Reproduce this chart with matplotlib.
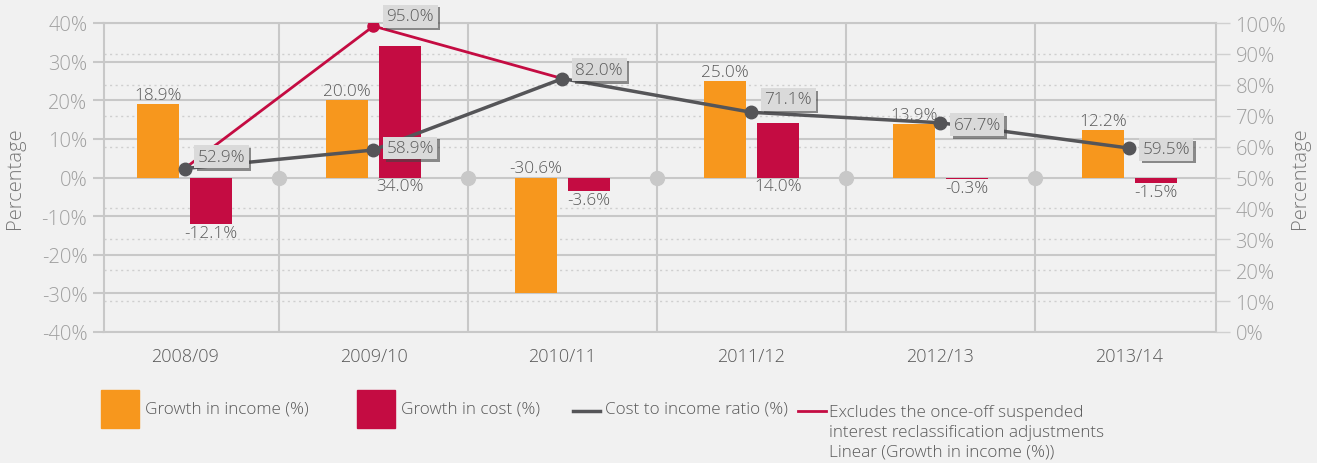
import numpy as np
import matplotlib
matplotlib.use("Agg")
import matplotlib.pyplot as plt
from matplotlib.patches import Rectangle
from matplotlib.lines import Line2D
import matplotlib.patheffects as pe

plt.rcParams['font.family'] = ['Open Sans', 'DejaVu Sans']

# data
years = ['2008/09', '2009/10', '2010/11', '2011/12', '2012/13', '2013/14']
growth_income = [18.9, 20.0, -30.6, 25.0, 13.9, 12.2]
growth_income_drawn = [18.9, 20.0, -30.0, 25.0, 13.9, 12.2]
growth_cost = [-12.1, 34.0, -3.6, 14.0, -0.3, -1.5]
cost_income_ratio = [52.9, 58.9, 82.0, 71.1, 67.7, 59.5]
excl_line = [52.9, 99.0, 82.0]          # as drawn in the source
excl_peak_label = '95.0%'

legend_labels = ['Growth in income (%)', 'Growth in cost (%)', 'Cost to income ratio (%)',
                 'Excludes the once-off suspended\ninterest reclassification adjustments\nLinear (Growth in income (%))']

ORANGE = '#f7971d'
CRIMSON = '#c40c42'
DARK = '#555558'
GRID = '#c8c8c8'
BG = '#f1f1f1'
TICK = '#a0a0a0'
TXT = '#595959'
WT = 'light'

fig = plt.figure(figsize=(13.17, 4.64), dpi=100, facecolor=BG)
ax = fig.add_axes([104/1317, 1-333/464, (1216-104)/1317, (333-24)/464])
ax.set_facecolor(BG)
x = np.arange(len(years))
ax.set_xlim(-0.426, 5.458)
ax.set_ylim(-40, 40)

w = 0.222
off = 0.14
ax.bar(x - off, growth_income_drawn, w, color=ORANGE, zorder=3)
ax.bar(x + off, growth_cost, w, color=CRIMSON, zorder=3)

for i, v in enumerate(growth_income):
    ax.annotate('%.1f%%' % v, (x[i] - off, max(v, 0)), xytext=(0, 1), textcoords='offset pixels',
                ha='center', va='bottom', fontsize=12.3, color=TXT, zorder=5, fontweight=WT)
for i, v in enumerate(growth_cost):
    ax.annotate('%.1f%%' % v, (x[i] + off, min(v, 0)), xytext=(0, -1), textcoords='offset pixels',
                ha='center', va='top', fontsize=12.3, color=TXT, zorder=5, fontweight=WT)

# grid
ax.set_yticks(np.arange(-40, 41, 10))
ax.set_yticks(np.arange(-40, 41, 8), minor=True)
ax.set_xticks(x)
ax.set_xticks(x[:-1] + 0.5, minor=True)
ax.set_xticklabels(years, fontweight=WT)
ax.yaxis.grid(True, which='major', color=GRID, lw=1.5)
ax.yaxis.grid(True, which='minor', color='#cfcfcf', lw=1.0, linestyle=(0, (1.5, 2.5)))
ax.xaxis.grid(True, which='minor', color=GRID, lw=1.5)
ax.set_axisbelow(True)
ax.yaxis.set_major_formatter(plt.FuncFormatter(lambda v, p: '%d%%' % v))
ax.tick_params(axis='y', which='major', length=8, width=1.5, color=GRID, labelcolor=TICK,
               labelsize=14.5, pad=4)
ax.tick_params(axis='y', which='minor', length=0)
ax.tick_params(axis='x', which='both', length=0, labelcolor=TXT, labelsize=13, pad=11)
for s in ax.spines.values():
    s.set_color(GRID)
    s.set_linewidth(1.5)

ax.plot(x[:-1] + 0.5, np.zeros(len(x) - 1), 'o', color=GRID, ms=10, zorder=2, clip_on=False)

# right axis
ax2 = ax.twinx()
ax2.set_ylim(0, 100)
ax2.set_yticks(np.arange(0, 101, 10))
ax2.yaxis.set_major_formatter(plt.FuncFormatter(lambda v, p: '%d%%' % v))
ax2.tick_params(axis='y', length=10, width=1, color='#d0d0d0', labelcolor=TICK, labelsize=14.5, pad=4)
for s in ax2.spines.values():
    s.set_visible(False)
for lab in ax.get_yticklabels() + ax2.get_yticklabels():
    lab.set_fontweight(WT)

ax2.plot(x[:len(excl_line)], excl_line, color=CRIMSON, lw=2, zorder=2)
ax2.plot(x[1], excl_line[1], 'o', color=CRIMSON, ms=8, zorder=2)
ax2.plot(x, cost_income_ratio, color=DARK, lw=2.5, marker='o', ms=9, zorder=3)

def boxlabel(xv, yv, txt, dy):
    t = ax2.annotate(txt, (xv, yv), xytext=(13, dy), textcoords='offset pixels',
                     ha='left', va='center', fontsize=12.3, color=TXT, zorder=6, fontweight=WT,
                     bbox=dict(boxstyle='square,pad=0.2', fc='#dadada', ec='none'))
    t.get_bbox_patch().set_path_effects([pe.SimplePatchShadow(offset=(2, -2), shadow_rgbFace='#444444', alpha=0.6),
                                         pe.Normal()])

dys = [12, 2, 9, 13, -2, -1]
for i, v in enumerate(cost_income_ratio):
    boxlabel(x[i], v, '%.1f%%' % v, dys[i])
boxlabel(x[1], excl_line[1], excl_peak_label, 10)

fig.text(15/1317, 1-178/464, 'Percentage', rotation=90, ha='center', va='center', fontsize=14.5,
         color='#777777', fontweight=WT)
fig.text(1300/1317, 1-178/464, 'Percentage', rotation=90, ha='center', va='center', fontsize=14.5,
         color='#777777', fontweight=WT)

# legend
H, W = 464, 1317
LF = 12.3
fig.patches.append(Rectangle((101/W, 1-429/H), 38/W, 38/H, transform=fig.transFigure, color=ORANGE))
fig.text(145/W, 1-410/H, legend_labels[0], ha='left', va='center', fontsize=LF, color=TXT, fontweight=WT)
fig.patches.append(Rectangle((357/W, 1-429/H), 38/W, 38/H, transform=fig.transFigure, color=CRIMSON))
fig.text(401/W, 1-410/H, legend_labels[1], ha='left', va='center', fontsize=LF, color=TXT, fontweight=WT)
fig.lines.append(Line2D([573/W, 600/W], [1-412/H, 1-412/H], transform=fig.transFigure, color=DARK, lw=2.5))
fig.text(605/W, 1-410/H, legend_labels[2], ha='left', va='center', fontsize=LF, color=TXT, fontweight=WT)
fig.lines.append(Line2D([798/W, 826/W], [1-412/H, 1-412/H], transform=fig.transFigure, color=CRIMSON, lw=2))
fig.text(829/W, 1-433/H, legend_labels[3], ha='left', va='center', fontsize=LF, color=TXT,
         linespacing=1.3, fontweight=WT)

fig.savefig('out.png', dpi=100, facecolor=BG)
